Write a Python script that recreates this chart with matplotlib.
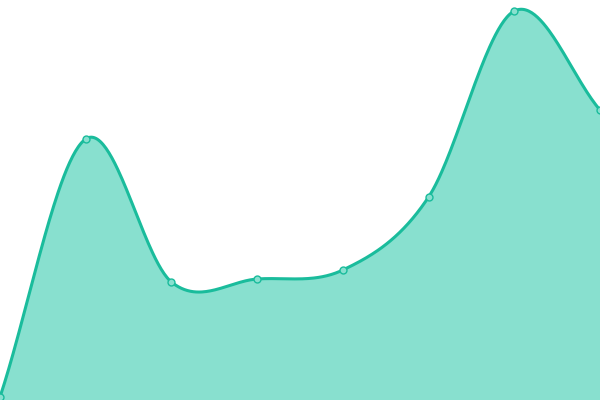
import numpy as np
import matplotlib
matplotlib.use("Agg")
import matplotlib.pyplot as plt

categories = ["A", "B", "C", "D", "E", "F", "G", "H"]
values = [3, 261, 118, 121, 130, 203, 389, 290]

LINE = "#1abc9c"
FILL = "#88e0cf"

def catmull_rom(x, y, n=60):
    x = np.asarray(x, float); y = np.asarray(y, float)
    px = np.concatenate([[2*x[0]-x[1]], x, [2*x[-1]-x[-2]]])
    py = np.concatenate([[2*y[0]-y[1]], y, [2*y[-1]-y[-2]]])
    xs, ys = [], []
    t = np.linspace(0, 1, n)
    for i in range(1, len(px)-2):
        p0, p1, p2, p3 = [np.array([px[j], py[j]]) for j in (i-1, i, i+1, i+2)]
        m1 = (p2 - p0) / 2
        m2 = (p3 - p1) / 2
        h00 = 2*t**3 - 3*t**2 + 1
        h10 = t**3 - 2*t**2 + t
        h01 = -2*t**3 + 3*t**2
        h11 = t**3 - t**2
        pts = (np.outer(h00, p1) + np.outer(h10, m1) + np.outer(h01, p2) + np.outer(h11, m2))
        xs.extend(pts[:, 0]); ys.extend(pts[:, 1])
    return np.array(xs), np.array(ys)

xpos = np.arange(len(categories))
sx, sy = catmull_rom(xpos, values)

fig = plt.figure(figsize=(6, 4), dpi=100)
ax = fig.add_axes([0, 0, 1, 1])
ax.fill_between(sx, sy, 0, color=FILL, lw=0)
ax.plot(sx, sy, color=LINE, lw=2.2)
ax.plot(xpos, values, 'o', ms=5, mfc=FILL, mec=LINE, mew=1)
ax.set_xlim(0, len(categories)-1)
ax.set_ylim(0, 400)
ax.axis('off')
fig.savefig("out.png", dpi=100)
